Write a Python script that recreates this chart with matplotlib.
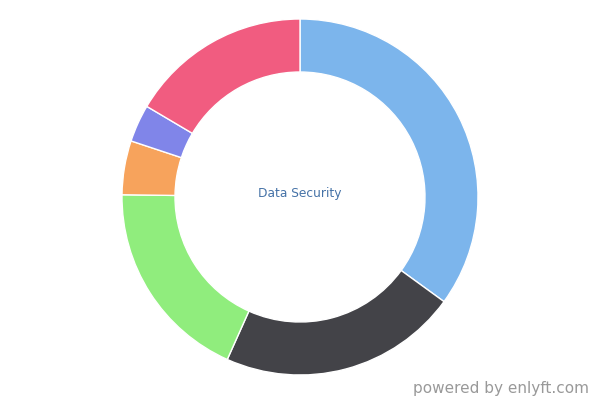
import matplotlib
matplotlib.use('Agg')
import matplotlib.pyplot as plt

# 各分类占比
labels = ['A', 'B', 'C', 'D', 'E', 'F']
values = [35.0, 21.7, 18.5, 4.9, 3.4, 16.5]
colors = ['#7cb5ec', '#434348', '#90ed7d', '#f7a35c', '#8085e9', '#f15c80']
center_title = 'Data Security'
credit = 'powered by enlyft.com'

fig = plt.figure(figsize=(6, 4), dpi=100)
ax = fig.add_axes([0, 0, 1, 1])

ax.pie(values, colors=colors, startangle=90, counterclock=False,
       center=(300, 203), radius=178, frame=True,
       wedgeprops=dict(width=53, edgecolor='white', linewidth=1))
ax.set_xlim(0, 600)
ax.set_ylim(0, 400)
ax.set_aspect('equal')
ax.axis('off')

ax.text(300, 206, center_title, ha='center', va='center', fontsize=8.8, color='#4572a7')
ax.text(589, 4, credit, ha='right', va='bottom', fontsize=11, color='#999999')

plt.savefig('out.png', dpi=100)
